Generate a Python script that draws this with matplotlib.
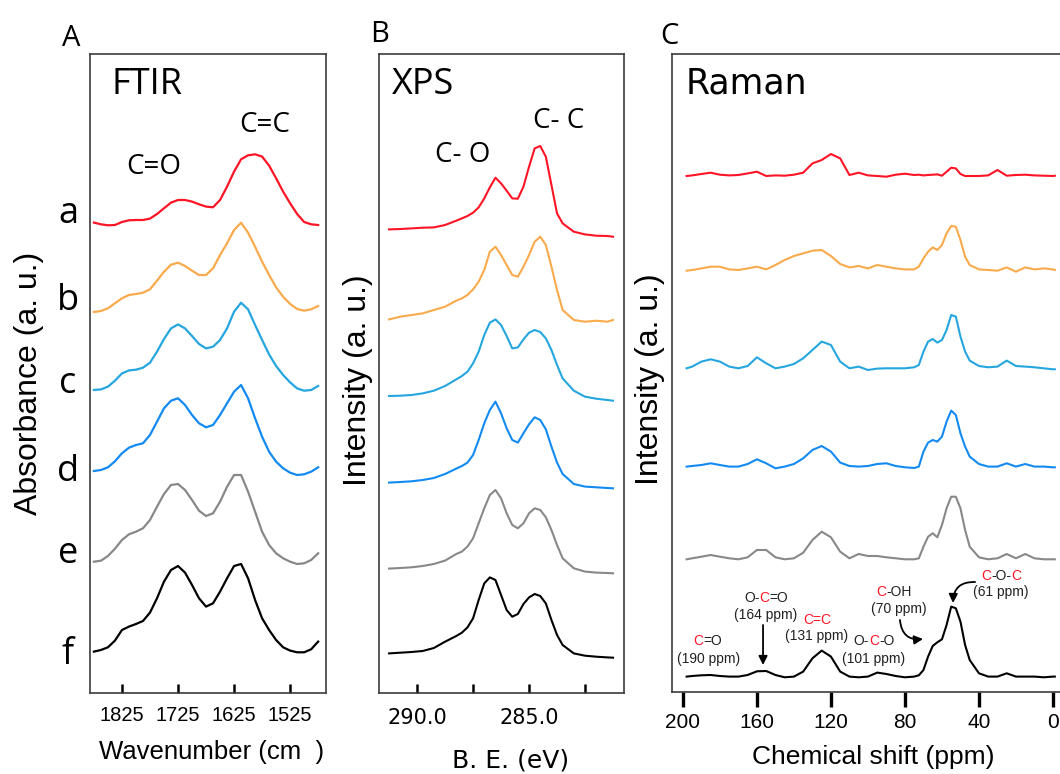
import numpy as np
import matplotlib
matplotlib.use("Agg")
import matplotlib.pyplot as plt
from matplotlib.offsetbox import TextArea, HPacker, AnnotationBbox

# ---- data (intensities in a.u., curves stacked by offsets) ----
samples = ["a", "b", "c", "d", "e", "f"]
colors = ["#ff1426", "#f9aa4c", "#25a6de", "#128af2", "#888888", "#000000"]

ftir_wn = [1875, 1862.5, 1850, 1837.5, 1825, 1812.5, 1800, 1787.5, 1775, 1762.5, 1750,
           1737.5, 1725, 1712.5, 1700, 1687.5, 1675, 1662.5, 1650, 1637.5, 1625, 1612.5,
           1600, 1587.5, 1575, 1562.5, 1550, 1537.5, 1525, 1512.5, 1500, 1487.5, 1475]
ftir_a = [2.7, 1, 0, 0.3, 3.3, 5, 5.3, 5.3, 6.7, 11.3, 17, 22.7, 25.3, 25.3, 23.7, 21, 18.7,
          18, 25.3, 38.7, 53.7, 66, 70, 71, 68.7, 59.7, 47, 33.7, 22, 11.3, 3.3, 1, 0.3]
ftir_b = [0, 1, 3.7, 8.7, 13.7, 17, 18, 19.3, 22.7, 31.3, 40.3, 47.3, 49.3, 46, 41.3, 37, 37,
          43.7, 57, 68.7, 82, 89.3, 79.3, 65.3, 50.3, 37, 24.7, 15.3, 8, 3, 1.3, 2.7, 6]
ftir_c = [0.7, 1.3, 4, 10, 17.3, 20.3, 21, 23, 28, 39, 51.7, 62.3, 66.3, 62.3, 54.7, 46.7, 42.3,
          44, 50.7, 62.3, 79, 88, 81.3, 65.7, 50.7, 36.3, 24.7, 15.7, 8.3, 2.3, 0, 0.7, 4.7]
ftir_d = [4, 5, 7.7, 13.7, 21.7, 27.3, 30, 31.7, 40, 53.3, 66.7, 74.3, 76.7, 70, 60, 51.7, 47.7,
          50, 60, 71.7, 83.3, 90, 76.7, 56.7, 38.3, 23.3, 13.3, 6.7, 2.3, 0, 0.7, 3.3, 7.7]
ftir_e = [2.3, 3.3, 8, 15.3, 24, 29.7, 32.3, 35.7, 44, 57.3, 70, 79, 80, 74, 64, 53.3, 48,
          50.7, 62.3, 77.3, 89, 89, 72.3, 52.3, 32.3, 19, 10.7, 5.7, 2.3, 0, 0.7, 4, 10.7]
ftir_f = [0.7, 2.3, 5, 11.7, 22.3, 25.7, 28.3, 31.3, 39.7, 54, 70.7, 82.3, 86.3, 79.7, 67.3, 54,
          45.7, 49, 60.7, 74, 86.3, 88.3, 74, 52.3, 34, 22.3, 12.3, 5, 1.7, 0, 0, 3, 10.7]
ftir_offsets = [467.7, 381, 302.3, 218, 129, 40.7]

xps_be = [291.25, 290.75, 290.25, 289.75, 289.25, 288.75, 288.25, 288.0, 287.75, 287.5,
          287.25, 287.0, 286.75, 286.5, 286.25, 286.0, 285.75, 285.5, 285.25, 285.0,
          284.75, 284.5, 284.25, 284.0, 283.75, 283.5, 283.0, 282.5, 282.0, 281.5, 281.25]
xps_a = [7.3, 7.7, 8.3, 9, 9.3, 11.7, 16, 18.3, 20.7, 24, 29.3, 38.3, 49.3, 59, 53.3, 46,
         38.3, 38, 50, 70, 88.3, 90.7, 80, 51.7, 23.3, 13.3, 5, 2.3, 1, 0.7, 0]
xps_b = [2.3, 5, 6.7, 8.3, 11.7, 15, 21, 23.3, 26.7, 32.3, 40, 51.7, 70, 75, 66.7, 56.7,
         46.7, 45, 55, 66.7, 80, 85, 76.7, 55, 31.7, 11.7, 1.7, 0, 1, 0, 1.7]
xps_c = [4.7, 5, 5.7, 7.3, 10, 14.7, 21.3, 24.7, 29, 37.3, 49, 65.7, 78, 81.3, 75.7, 64.7,
         52.3, 53.3, 61.3, 68, 70.7, 68.7, 62.3, 50.7, 35.7, 22.3, 10, 4, 2, 0.7, 0]
xps_d = [5.7, 6.3, 7, 8.3, 10.3, 14.3, 19.7, 22.3, 25.7, 33.3, 48.3, 65, 78.3, 86.7, 75, 60,
         48.3, 45.7, 55, 64, 71, 68.3, 59, 41.7, 25.7, 14.3, 4.3, 1.7, 1, 0.3, 0]
xps_e = [4.7, 5.3, 6, 7.3, 9.3, 12.7, 19.3, 21.7, 26.7, 35, 50, 65, 78.3, 83.3, 75, 60,
         48.3, 45, 50, 60, 65, 63.3, 56, 43.3, 28.3, 15, 5, 1.7, 0.7, 0.3, 0]
xps_f = [4.3, 5, 5.7, 6.7, 9.7, 16, 21.7, 25, 30.3, 39.3, 57.7, 74.3, 80.3, 77.7, 62.7, 47.7,
         41, 43.7, 53.7, 60.3, 63.7, 61.7, 54.3, 37.7, 22.7, 12.7, 4.3, 2, 1, 0.3, 0]
xps_offsets = [456.3, 371.3, 292.3, 204.7, 119.7, 35.3]

nmr_ppm = [198, 195, 190, 185, 180, 175, 170, 165, 160, 155, 150, 145, 140, 135, 130, 125,
           120, 115, 110, 105, 100, 95, 90, 85, 80, 75, 72.5, 70, 67.5, 65, 62.5, 60, 57.5,
           55, 52.5, 50, 47.5, 45, 40, 35, 30, 25, 20, 15, 10, 5, 0, -1]
nmr_a = [0.7, 1.3, 2.7, 4, 2, 1.3, 1.7, 3.3, 5, 0.7, 1.3, 1, 2, 4, 13.3, 16.7, 22.7, 18.3,
         1.7, 4, 1.3, 0.7, 0, 2, 3, 1.7, 2, 1.3, 1.7, 2, 2.3, 1, 5, 9, 8.3, 2.7, 0.7, 0.7,
         0.7, 1.3, 6.7, 1, 1.7, 2, 1.3, 1, 0.7, 1]
nmr_b = [0, 0.7, 2.3, 4, 4, 1.3, 0.7, 2.3, 4, 1.3, 5.7, 10.7, 14.7, 17.3, 20, 20.7, 14.7,
         6.7, 3.3, 4.7, 2.3, 5.7, 4, 2.3, 1.3, 1.3, 4, 12.3, 19, 23.3, 20.7, 25.7, 37.3,
         44.7, 44, 30.7, 14, 5.7, 1.3, 0.7, 0, 3.3, -1, 3.3, 1.3, 2.3, 1.3, 0.7]
nmr_c = [1, 2.7, 7.7, 10, 7.7, 2.7, 1, 3.3, 12, 6, 1, 2.7, 5.3, 11, 19.3, 27.7, 24.3, 7.7,
         1, 2.7, -0.7, 0.7, 1, 1, 1, 2, 4.3, 17.7, 27.7, 30.3, 26.7, 29.3, 39.3, 54.3, 52.7,
         32.7, 17.7, 8.7, 3.3, 2, 2.7, 8.7, 3.3, 2.7, 2, 1, 0, 0]
nmr_d = [1.7, 2.3, 3.3, 5, 3.3, 1.7, 1.7, 4.3, 9, 5, 0, 1.7, 4.3, 10, 18.3, 22.3, 16.7, 5.7,
         2.3, 1.7, 2.3, 4.3, 5, 2.3, 1, 0.3, 1.7, 16.7, 25.7, 28.3, 26.7, 31.7, 46.7, 57.7,
         53.3, 35, 21.7, 11.7, 4.3, 1.7, 1.7, 5, 1.7, 4.3, 1.7, 1.7, 1, 1]
nmr_e = [0.7, 1.7, 3.3, 5, 3.3, 1.7, 0.7, 2.7, 10, 10, 2.7, 0.7, 1.7, 7.3, 20, 28.3, 22.7,
         8.3, 1.7, 6, 4, 4, 2.7, 1.7, 0.7, 0.7, 1.7, 13.3, 23.3, 26.7, 22.7, 35, 51.7, 63.3,
         63.3, 51.7, 30, 13.3, 2.7, 0.7, 1.7, 6, 1.7, 6, 1.7, 0.7, 0.7, 0.7]
nmr_f = [0.7, 1.3, 2, 2.3, 1.3, 0.7, 0.7, 2.3, 6, 6.3, 2.3, 0, 0.7, 5.7, 19, 26.7, 20.7, 5.7,
         0.7, 0, 0.7, 4.7, 3.3, 1.3, 0, 0.7, 2, 7.3, 20.7, 31.3, 35, 38, 52.3, 70.7, 69, 55.7,
         32.3, 17.3, 4, 0.7, 0.7, 4, 0.7, 0.7, 0.7, 0, 0.7, 0.7]
nmr_offsets = [516.3, 422.3, 323.7, 224.7, 133, 15.7]

ftir_ticks = [1825, 1725, 1625, 1525]
xps_ticks = [290.0, 287.5, 285.0, 282.5]
xps_ticklabels = ["290.0", "", "285.0", ""]
nmr_ticks = [200, 160, 120, 80, 40, 0]

RED = "#ff1426"
ARIAL = "Liberation Sans"
OPEN = "Open Sans"

W, H = 1060, 774
fig = plt.figure(figsize=(W / 100, H / 100), dpi=100)


def box(x0, x1, y0=54, y1=693):
    return [x0 / W, 1 - y1 / H, (x1 - x0) / W, (y1 - y0) / H]


def frame(ax):
    for s in ax.spines.values():
        s.set_color("#3c3c3c")
        s.set_linewidth(1.2)
    ax.set_yticks([])


# ---------------- A: FTIR ----------------
axA = fig.add_axes(box(90, 326))
for ys, off, c in zip([ftir_a, ftir_b, ftir_c, ftir_d, ftir_e, ftir_f], ftir_offsets, colors):
    axA.plot(ftir_wn, np.array(ys) + off, color=c, lw=1.6)
axA.set_xlim(1882, 1461)
axA.set_ylim(0, 639)
frame(axA)
axA.set_xticks(ftir_ticks)
axA.set_xticklabels([str(t) for t in ftir_ticks], fontfamily=ARIAL)
axA.tick_params(axis="x", direction="in", length=6.5, width=1.8, pad=9.5, labelsize=14.5)
axA.text(1780, 608, "FTIR", fontsize=26, fontfamily=OPEN, ha="center", va="center")
axA.text(1768, 526, "C=O", fontsize=20, fontfamily=OPEN, ha="center", va="center")
axA.text(1570, 568, "C=C", fontsize=20, fontfamily=OPEN, ha="center", va="center")
axA.text(0.513, -0.092, "Wavenumber (cm  )", transform=axA.transAxes, fontsize=18.5,
         fontfamily=ARIAL, ha="center", va="center")
axA.text(-0.26, 0.485, "Absorbance (a. u.)", transform=axA.transAxes, fontsize=23,
         fontfamily=ARIAL, rotation=90, ha="center", va="center")
for lab, yb in zip(samples, [223, 310, 393, 481, 563, 664]):
    fig.text(68 / W, 1 - yb / H, lab, fontsize=26, fontfamily=OPEN, ha="center", va="baseline")

# ---------------- B: XPS ----------------
axB = fig.add_axes(box(379, 624))
for ys, off, c in zip([xps_a, xps_b, xps_c, xps_d, xps_e, xps_f], xps_offsets, colors):
    axB.plot(xps_be, np.array(ys) + off, color=c, lw=1.5)
axB.set_xlim(291.7, 280.76)
axB.set_ylim(0, 639)
frame(axB)
axB.set_xticks(xps_ticks)
axB.set_xticklabels(xps_ticklabels, fontfamily="DejaVu Sans")
axB.tick_params(axis="x", direction="in", length=6.5, width=1.8, pad=11, labelsize=15)
axB.text(289.74, 608, "XPS", fontsize=26, fontfamily=OPEN, ha="center", va="center")
axB.text(287.95, 538, "C- O", fontsize=20, fontfamily=OPEN, ha="center", va="center")
axB.text(283.7, 572, "C- C", fontsize=20, fontfamily=OPEN, ha="center", va="center")
axB.text(0.539, -0.106, "B. E. (eV)", transform=axB.transAxes, fontsize=18,
         fontfamily="DejaVu Sans", ha="center", va="center")
axB.text(-0.086, 0.49, "Intensity (a. u.)", transform=axB.transAxes, fontsize=23,
         fontfamily=ARIAL, rotation=90, ha="center", va="center")

# ---------------- C: "Raman" ----------------
axC = fig.add_axes(box(672, 1065, y1=692))
for ys, off, c in zip([nmr_a, nmr_b, nmr_c, nmr_d, nmr_e, nmr_f], nmr_offsets, colors):
    axC.plot(nmr_ppm, np.array(ys) + off, color=c, lw=1.5)
axC.set_xlim(205.9, -6.5)
axC.set_ylim(1, 639)
frame(axC)
axC.spines["right"].set_visible(False)
axC.set_xticks(nmr_ticks)
axC.set_xticklabels([str(t) for t in nmr_ticks], fontfamily=ARIAL)
axC.tick_params(axis="x", direction="out", length=11, width=2.4, pad=4, labelsize=15)
axC.text(165.4, 609, "Raman", fontsize=25, fontfamily="DejaVu Sans", ha="center", va="center")
axC.text(0.511, -0.102, "Chemical shift (ppm)", transform=axC.transAxes, fontsize=19,
         fontfamily=ARIAL, ha="center", va="center")
axC.text(-0.056, 0.49, "Intensity (a. u.)", transform=axC.transAxes, fontsize=23,
         fontfamily=ARIAL, rotation=90, ha="center", va="center")


def multicolor(ax, x, y, parts, size=10):
    kids = [TextArea(s, textprops=dict(color=c, fontsize=size, fontfamily=ARIAL)) for s, c in parts]
    pack = HPacker(children=kids, align="baseline", pad=0, sep=0)
    ab = AnnotationBbox(pack, (x, y), xycoords="data", frameon=False,
                        box_alignment=(0.5, 0.5), pad=0)
    ax.add_artist(ab)


K = "#222222"
peaks = [
    (186.4, 52, 34, [("C", RED), ("=O", K)], "(190 ppm)"),
    (155.1, 95, 78, [("O-", K), ("C", RED), ("=O", K)], "(164 ppm)"),
    (127.5, 73, 57, [("C=C", RED)], "(131 ppm)"),
    (96.7, 52, 34, [("O-", K), ("C", RED), ("-O", K)], "(101 ppm)"),
    (85.9, 101, 84, [("C", RED), ("-OH", K)], "(70 ppm)"),
    (28.1, 117, 101, [("C", RED), ("-O-", K), ("C", RED)], "(61 ppm)"),
]
for x, y1, y2, parts, ppm in peaks:
    multicolor(axC, x, y1, parts)
    axC.text(x if ppm != "(70 ppm)" else 83.2, y2, ppm, fontsize=10, fontfamily=ARIAL,
             color=K, ha="center", va="center")

arrow = dict(arrowstyle="-|>", color="k", lw=1.3, mutation_scale=13, shrinkA=0, shrinkB=0)
axC.annotate("", xy=(156.7, 28), xytext=(156.7, 68), arrowprops=arrow)
axC.annotate("", xy=(70.2, 54), xytext=(82.7, 73),
             arrowprops=dict(arrow, connectionstyle="arc3,rad=0.5"))
axC.annotate("", xy=(54, 90), xytext=(42.1, 111),
             arrowprops=dict(arrow, connectionstyle="arc3,rad=0.5"))

# panel letters
for lab, (x, y) in zip(["A", "B", "C"], [(71, 38), (380, 34), (669, 37)]):
    fig.text(x / W, 1 - y / H, lab, fontsize=21, fontfamily=OPEN, ha="center", va="center")

fig.savefig("out.png", dpi=100)
